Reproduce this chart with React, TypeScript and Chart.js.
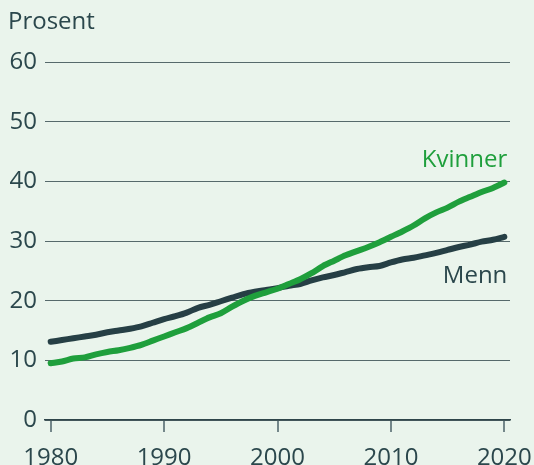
import React, { useEffect, useRef } from "react";
import { Chart, registerables } from "chart.js";

Chart.register(...registerables);

const years = [
  1980, 1981, 1982, 1983, 1984, 1985, 1986, 1987, 1988, 1989,
  1990, 1991, 1992, 1993, 1994, 1995, 1996, 1997, 1998, 1999,
  2000, 2001, 2002, 2003, 2004, 2005, 2006, 2007, 2008, 2009,
  2010, 2011, 2012, 2013, 2014, 2015, 2016, 2017, 2018, 2019, 2020,
];

const kvinner = [
  9.5, 9.8, 10.3, 10.5, 11.0, 11.4, 11.7, 12.1, 12.6, 13.3,
  14.0, 14.7, 15.4, 16.3, 17.2, 17.9, 19.0, 20.0, 20.8, 21.4,
  22.0, 22.8, 23.6, 24.6, 25.8, 26.7, 27.6, 28.3, 29.0, 29.8,
  30.7, 31.6, 32.6, 33.8, 34.8, 35.6, 36.6, 37.4, 38.2, 38.9, 39.8,
];

const menn = [
  13.1, 13.4, 13.7, 14.0, 14.3, 14.7, 15.0, 15.3, 15.7, 16.3,
  16.9, 17.4, 18.0, 18.8, 19.3, 19.9, 20.5, 21.1, 21.5, 21.8,
  22.1, 22.5, 22.8, 23.4, 23.9, 24.3, 24.8, 25.3, 25.6, 25.8,
  26.4, 26.9, 27.2, 27.6, 28.0, 28.5, 29.0, 29.4, 29.9, 30.2, 30.7,
];

const xTicks = [1980, 1990, 2000, 2010, 2020];
const yTitle = "Prosent";
const seriesNames = ["Kvinner", "Menn"];

const BG = "#eaf4ec";
const GREEN = "#1f9f3c";
const DARK = "#263f45";
const TEXT = "#2b474c";
const FONT = '"Open Sans", sans-serif';

const labelPlugin = {
  id: "seriesLabels",
  afterDraw(chart: any) {
    const ctx = chart.ctx;
    const xs = chart.scales.x;
    const ys = chart.scales.y;
    ctx.save();
    ctx.font = `24px ${FONT}`;
    ctx.textBaseline = "alphabetic";
    ctx.textAlign = "left";
    ctx.fillStyle = TEXT;
    ctx.fillText(yTitle, 8, 29);
    ctx.textAlign = "right";
    const xr = xs.getPixelForValue(2020) + 3;
    ctx.fillStyle = GREEN;
    ctx.fillText(seriesNames[0], xr, ys.getPixelForValue(42.45));
    ctx.fillStyle = TEXT;
    ctx.fillText(seriesNames[1], xr, ys.getPixelForValue(22.9));
    ctx.restore();
  },
};

export default function App() {
  const ref = useRef<HTMLCanvasElement>(null);

  useEffect(() => {
    document.body.style.margin = "0";
    const canvas = ref.current!;
    const chart = new Chart(canvas, {
      type: "line",
      data: {
        datasets: [
          {
            label: seriesNames[0],
            data: years.map((y, i) => ({ x: y, y: kvinner[i] })),
            borderColor: GREEN,
            borderWidth: 6,
            pointRadius: 0,
            tension: 0.3,
            borderCapStyle: "round",
            borderJoinStyle: "round",
            fill: false,
          },
          {
            label: seriesNames[1],
            data: years.map((y, i) => ({ x: y, y: menn[i] })),
            borderColor: DARK,
            borderWidth: 6,
            pointRadius: 0,
            tension: 0.3,
            borderCapStyle: "round",
            borderJoinStyle: "round",
            fill: false,
          },
        ],
      },
      options: {
        animation: false,
        responsive: false,
        maintainAspectRatio: false,
        layout: { padding: { left: 0, right: 24, top: 62, bottom: 0 } },
        plugins: {
          legend: { display: false },
          tooltip: { enabled: false },
        },
        scales: {
          x: {
            type: "linear",
            min: 1979.5,
            max: 2020.5,
            afterBuildTicks: (scale: any) => {
              scale.ticks = xTicks.map((v) => ({ value: v }));
            },
            afterFit: (scale: any) => {
              scale.height = 45;
              scale.paddingLeft = 0;
              scale.paddingRight = 0;
            },
            grid: {
              drawOnChartArea: false,
              drawTicks: true,
              tickLength: 12,
              color: "#74878a",
              lineWidth: 2,
            },
            border: { display: true, color: "#2f454a", width: 1.5 },
            ticks: {
              color: TEXT,
              font: { family: FONT, size: 24 },
              padding: 12,
              maxRotation: 0,
              autoSkip: false,
              callback: (v: any) => String(v),
            },
          },
          y: {
            min: 0,
            max: 60,
            afterFit: (scale: any) => {
              scale.width = 45;
              scale.paddingTop = 0;
              scale.paddingBottom = 0;
            },
            grid: {
              drawTicks: false,
              color: "#56696b",
              lineWidth: 1,
            },
            border: { display: false },
            ticks: {
              stepSize: 10,
              color: TEXT,
              font: { family: FONT, size: 24 },
              padding: 8,
            },
          },
        },
      },
      plugins: [labelPlugin],
    });
    return () => chart.destroy();
  }, []);

  return (
    <div
      style={{
        position: "fixed",
        left: 0,
        top: 0,
        width: 534,
        height: 465,
        background: BG,
      }}
    >
      <canvas ref={ref} width={534} height={465} style={{ display: "block" }} />
    </div>
  );
}
